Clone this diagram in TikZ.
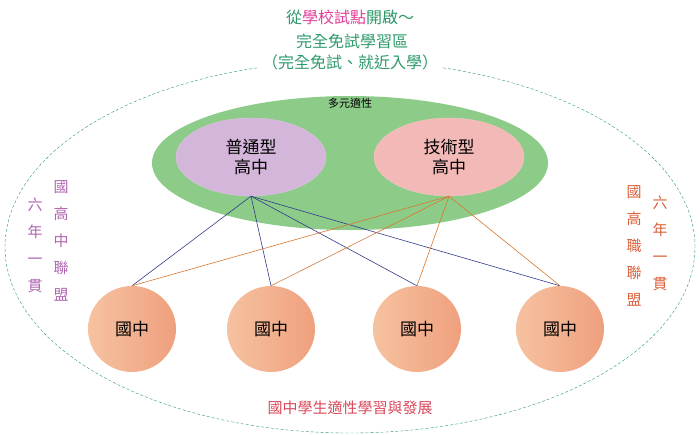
\documentclass[tikz,border=0pt]{standalone}
\usepackage{fontspec}
\setmainfont{Noto Sans CJK TC}
\usetikzlibrary{shapes.geometric}
\definecolor{ttlgreen}{HTML}{2E9A6A}
\definecolor{ttlpink}{HTML}{E0409A}
\definecolor{leafgreen}{HTML}{8DCB89}
\definecolor{lilac}{HTML}{D4B6DA}
\definecolor{rose}{HTML}{F2B9B6}
\definecolor{navyline}{HTML}{2E3A8C}
\definecolor{rustline}{HTML}{D9772E}
\definecolor{mauve}{HTML}{B065B0}
\definecolor{brick}{HTML}{D9603A}
\definecolor{redtxt}{HTML}{D9485A}
\definecolor{peachlt}{HTML}{F6C2A0}
\definecolor{peachdk}{HTML}{EFA07E}
\tikzset{
  school/.style={ellipse, minimum width=88pt, minimum height=86pt,
    left color=peachlt, right color=peachdk,
    font=\fontsize{17}{17}\selectfont, inner sep=0pt},
  senior/.style={ellipse, minimum width=150pt, minimum height=78pt,
    font=\fontsize{17}{20}\selectfont, align=center, inner sep=0pt},
  vert/.style={align=center, font=\fontsize{15}{27}\selectfont},
  link/.style={line width=.6pt}
}
\begin{document}
\begin{tikzpicture}[x=1pt,y=-1pt]
  \useasboundingbox (0,0) rectangle (700,434);
  % outer zone
  \draw [ttlgreen, densely dashed] (350,247) ellipse (345pt and 186pt);
  \node [fill=white, text=ttlgreen, font=\fontsize{16}{16}\selectfont, inner sep=1pt]
    (t1) at (350,17) {從\textcolor{ttlpink}{學校試點}開啟～};
  \node [fill=white, text=ttlgreen, font=\fontsize{16}{16}\selectfont, inner sep=1pt]
    (t2) at (352,41) {完全免試學習區};
  \node [fill=white, text=ttlgreen, font=\fontsize{16}{16}\selectfont, inner sep=3pt]
    (t3) at (350,62) {（完全免試、就近入學）};
  % senior high
  \node [ellipse, fill=leafgreen, minimum width=396pt, minimum height=134pt]
    (pool) at (350,163) {};
  \node [font=\fontsize{11}{11}\selectfont] (fit) at (350,103) {多元適性};
  \node [senior, fill=lilac, draw=lilac!80!white] (gen) at (251,157) {普通型\\高中};
  \node [senior, fill=rose, draw=rose!80!white] (tech) at (449,157) {技術型\\高中};
  % junior high
  \foreach \i/\x in {1/132,2/271,3/417,4/560}
    \node [school] (jh\i) at (\x,329) {國中};
  \foreach \i in {1,...,4}
    \draw [link, navyline] (gen.south) -- (jh\i.north);
  \foreach \i in {1,...,4}
    \draw [link, rustline] (tech.south) -- (jh\i.north);
  % side labels
  \node [vert, text=mauve] (lsix) at (35,245) {六\\年\\一\\貫};
  \node [vert, text=mauve] (lall) at (61,241) {國\\高\\中\\聯\\盟};
  \node [vert, text=brick] (rall) at (634,246) {國\\高\\職\\聯\\盟};
  \node [vert, text=brick] (rsix) at (660,243) {六\\年\\一\\貫};
  \node [text=redtxt, font=\fontsize{15}{15}\selectfont] (dev) at (350,408) {國中學生適性學習與發展};
\end{tikzpicture}
\end{document}
